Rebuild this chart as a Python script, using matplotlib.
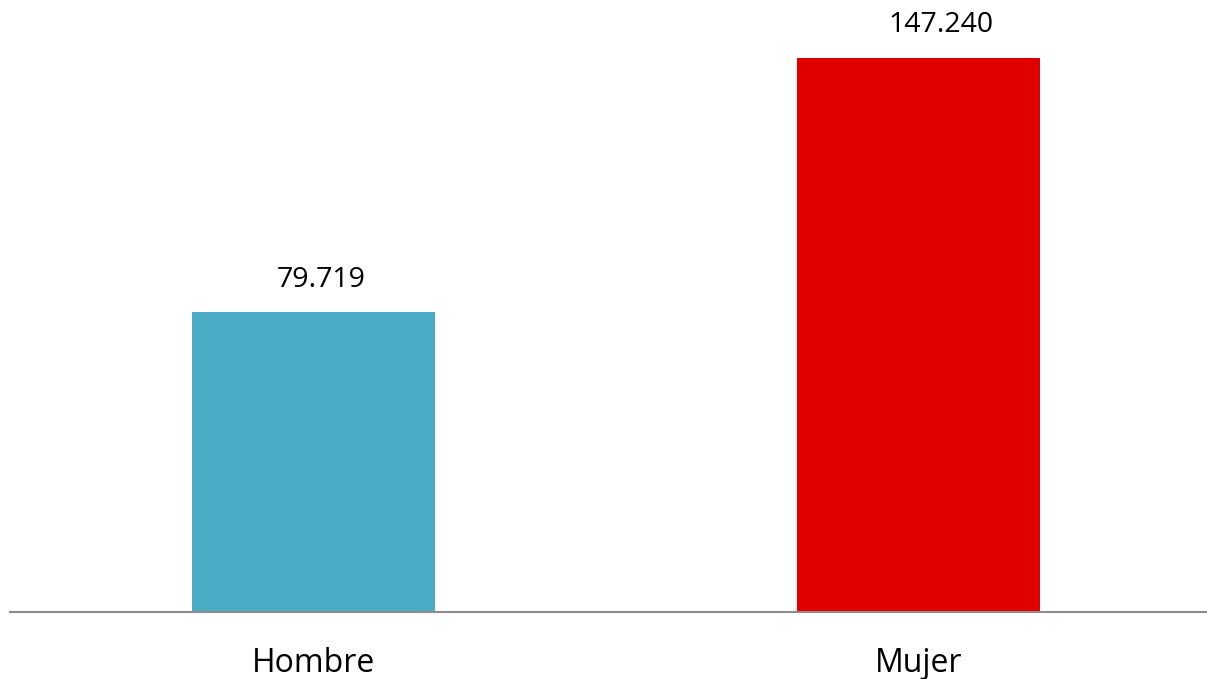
import matplotlib.pyplot as plt

categories = ["Hombre", "Mujer"]
values = [79719, 147240]
labels = ["79.719", "147.240"]
colors = ["#4BACC6", "#E00000"]

plt.rcParams['font.family'] = ['Open Sans', 'DejaVu Sans']

fig = plt.figure(figsize=(12.07, 6.79), dpi=100)
ax = fig.add_axes([10 / 1207, 67 / 679, 1197 / 1207, 612 / 679])

x = range(len(categories))
ax.bar(x, values, width=0.4017, color=colors)

# value labels above bars (the original sits them a bit right of centre)
label_dx = [5.5, 16]
label_dy = [13, 14]
for xi, v, lab, dx, dy in zip(x, values, labels, label_dx, label_dy):
    ax.annotate(lab, (xi, v), xytext=(dx, dy), textcoords="offset points",
                ha="center", va="bottom", fontsize=20.5, color="#000000")

ax.set_xlim(-0.5017, 1.4769)
ax.set_ylim(0, 147240 * 612 / 554)

ax.set_xticks(list(x))
ax.set_xticklabels(categories, fontsize=23)
ax.tick_params(axis="x", length=0, pad=25)
ax.set_yticks([])

for side in ["top", "right", "left"]:
    ax.spines[side].set_visible(False)
ax.spines["bottom"].set_color("#8c8c8c")
ax.spines["bottom"].set_linewidth(1.5)

fig.savefig("out.png", dpi=100)
